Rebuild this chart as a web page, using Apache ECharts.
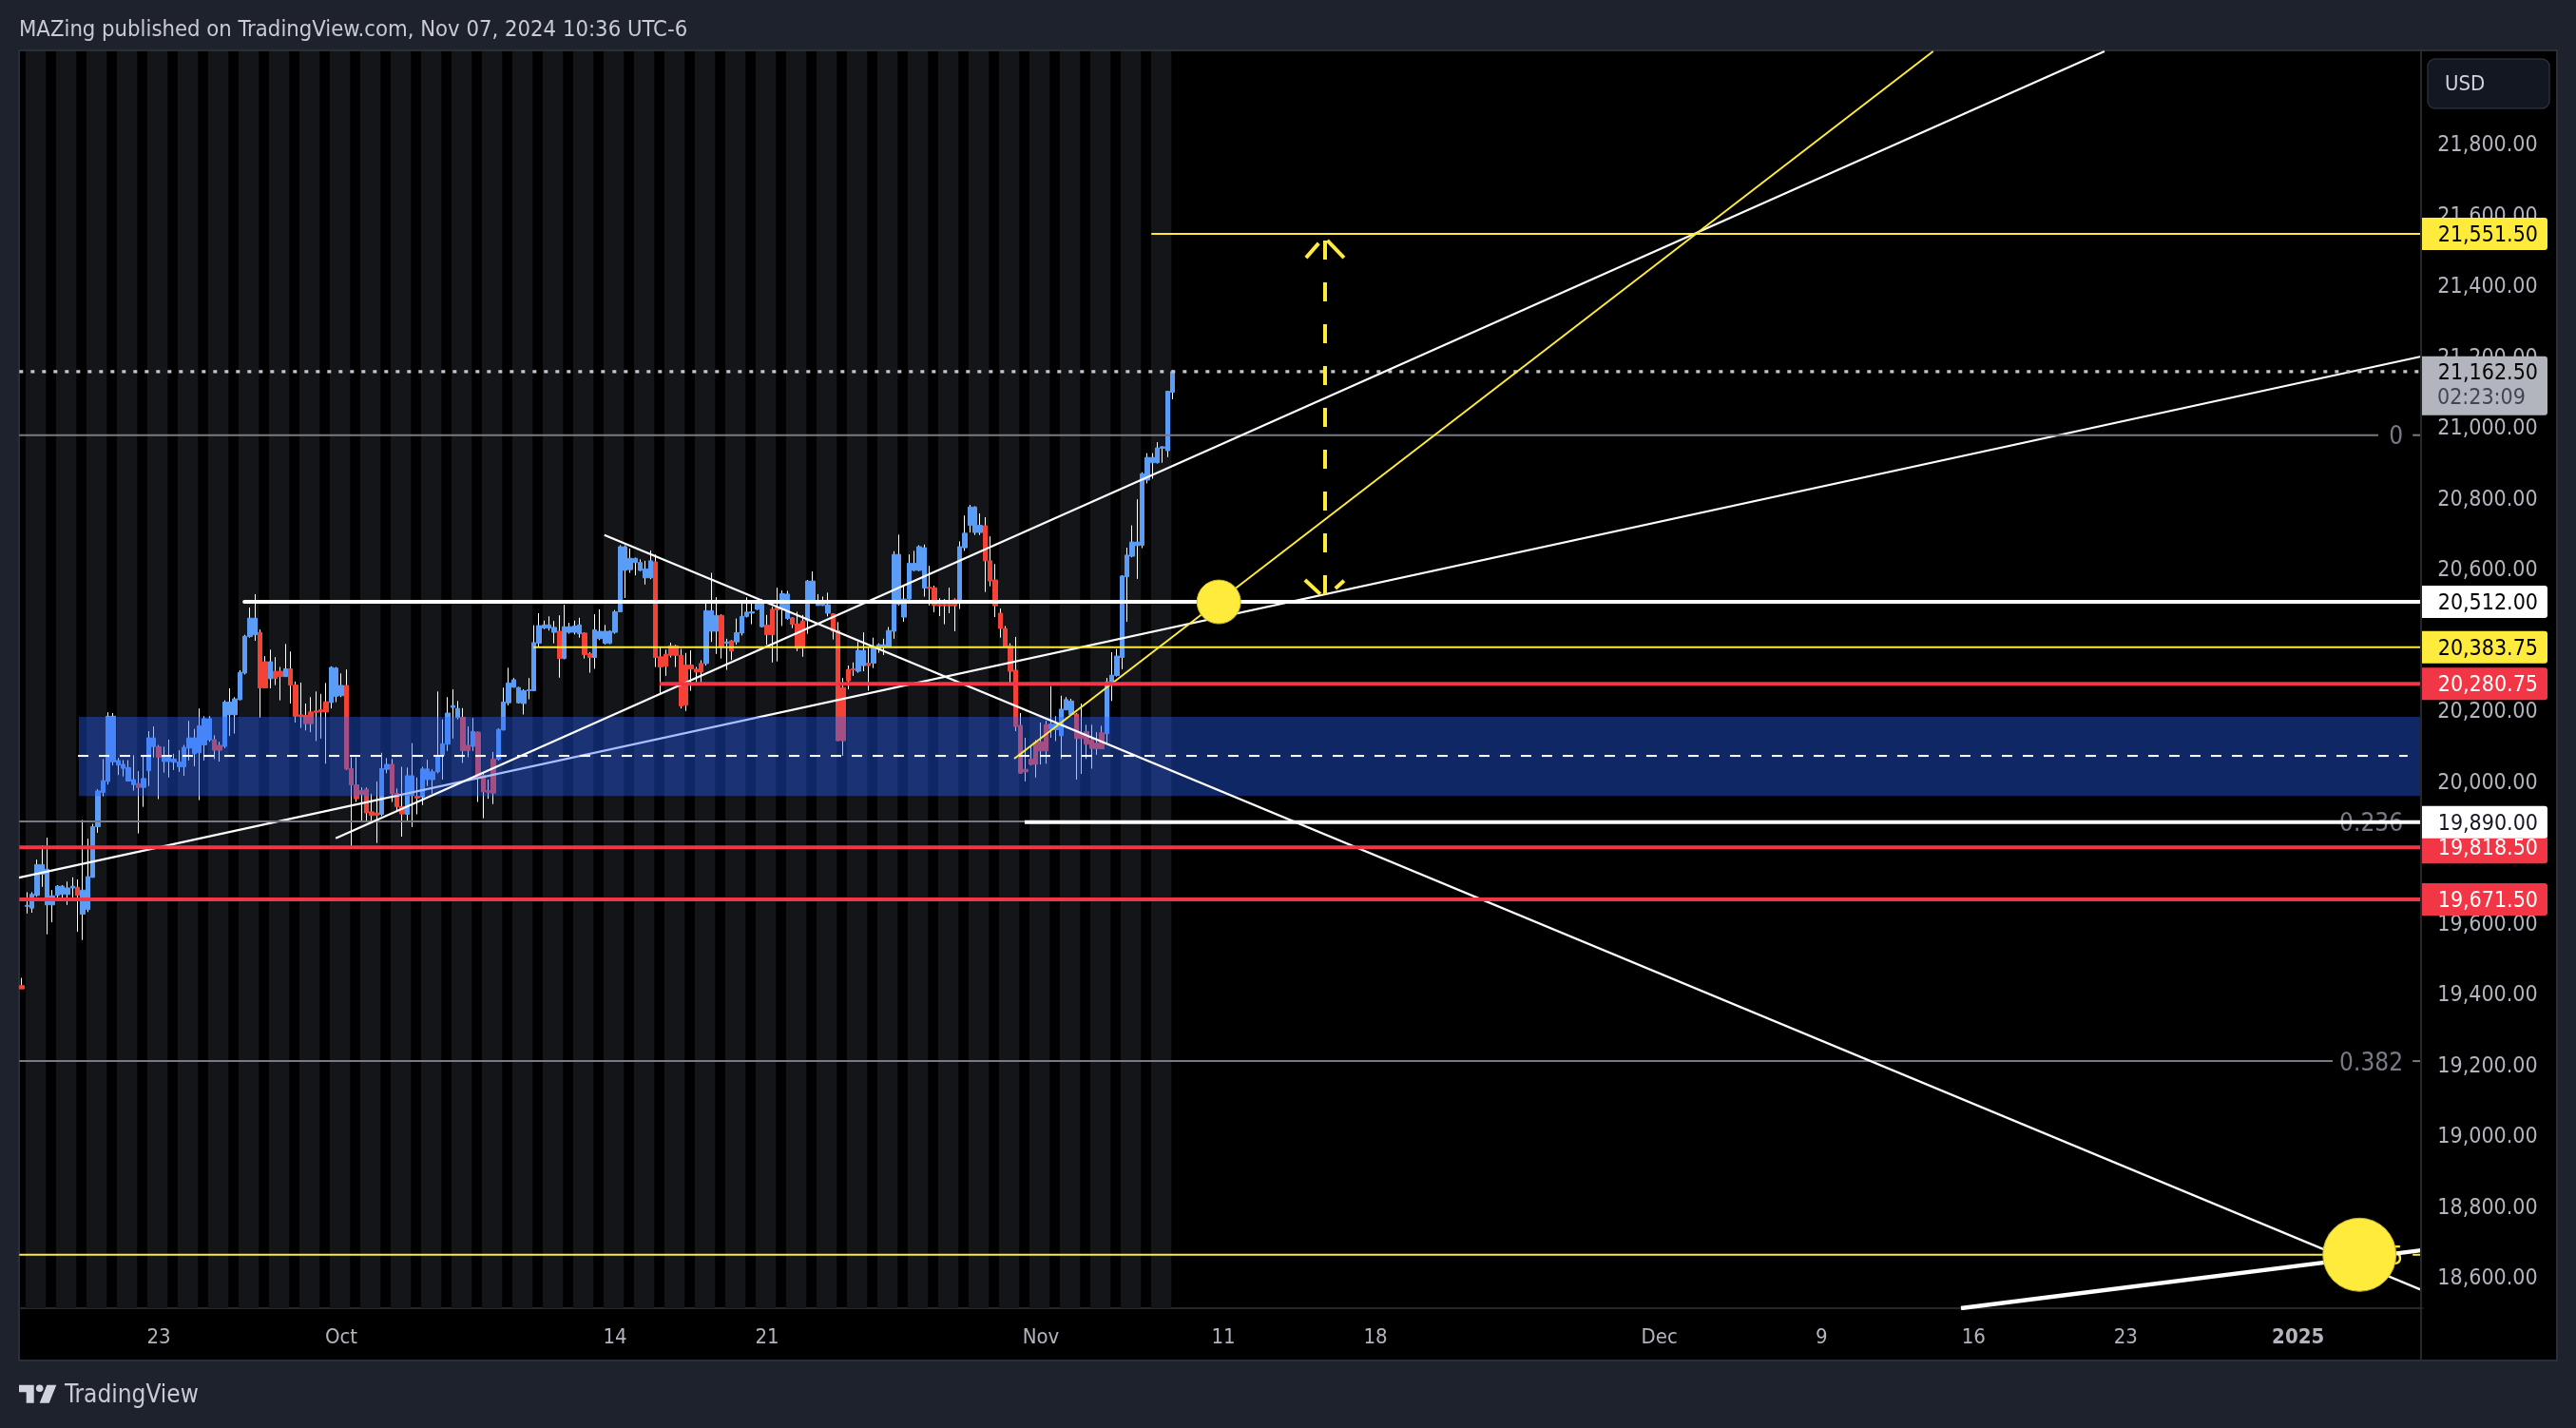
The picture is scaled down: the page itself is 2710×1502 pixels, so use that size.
<!DOCTYPE html>
<html><head><meta charset="utf-8">
<style>html,body{margin:0;padding:0;background:#1e222d;overflow:hidden}#c{width:2710px;height:1502px}</style>
<script src="https://cdn.jsdelivr.net/npm/echarts@6/dist/echarts.min.js"></script>
</head><body><div id="c"></div>
<script>
const FONT = '"DejaVu Sans Condensed","DejaVu Sans",sans-serif';
const opens = [
19428,19652,19647,19683,19743,19656,19656,19683,19686,19686,
19704,19706,19630,19643,19734,19877,19974,20005,20060,20051,
20042,20006,19996,19999,19988,20035,20103,20103,20061,20061,
20059,20046,20046,20099,20083,20086,20108,20122,20123,20107,
20104,20193,20193,20236,20311,20414,20419,20426,20343,20295,
20316,20316,20301,20323,20277,20193,20191,20201,20204,20207,
20230,20228,20245,20247,20276,20041,19995,19979,19983,19919,
19916,19912,20039,20053,19971,19934,19912,19965,19963,19961,
20010,20010,20032,20079,20110,20214,20185,20186,20107,20104,
20144,20022,19979,20068,20068,20150,20227,20271,20227,20225,
20261,20261,20395,20438,20438,20426,20429,20352,20426,20426,
20422,20424,20366,20355,20408,20395,20395,20426,20484,20601,
20603,20623,20601,20580,20580,20625,20357,20364,20388,20388,
20361,20334,20334,20322,20338,20338,20429,20429,20474,20395,
20402,20399,20424,20471,20480,20491,20442,20446,20491,20495,
20491,20465,20467,20450,20458,20459,20516,20502,20502,20480,
20478,20431,20270,20321,20323,20316,20332,20339,20339,20382,
20386,20386,20429,20505,20469,20520,20601,20601,20551,20554,
20552,20505,20505,20505,20518,20516,20665,20728,20708,20708,
20727,20628,20574,20480,20437,20388,20319,20163,20039,20068,
20116,20117,20165,20152,20151,20134,20207,20194,20195,20140,
20146,20122,20113,20142,20140,20286,20304,20355,20583,20641,
20671,20672,20856,20905,20905,20946,20939,21104];
const highs = [
19450,19692,19692,19784,19824,19846,19698,19712,19712,19722,
19734,19728,19896,19843,19885,19983,20068,20200,20198,20071,
20065,20065,20079,20034,20075,20147,20160,20108,20103,20123,
20083,20093,20108,20176,20153,20211,20189,20189,20135,20117,
20234,20268,20243,20319,20419,20496,20534,20434,20359,20377,
20356,20328,20393,20372,20287,20284,20225,20243,20259,20252,
20283,20330,20328,20310,20321,20073,20073,19988,19988,19970,
20005,20086,20071,20068,19985,20046,20044,20113,20016,20046,
20066,20039,20259,20180,20243,20265,20232,20212,20160,20184,
20146,20028,20010,20088,20155,20270,20326,20297,20272,20265,
20297,20446,20480,20459,20471,20458,20474,20504,20453,20459,
20467,20426,20370,20477,20491,20447,20431,20489,20672,20672,
20663,20637,20632,20628,20657,20646,20386,20377,20397,20391,
20379,20368,20375,20328,20347,20507,20594,20525,20477,20408,
20404,20465,20507,20525,20507,20518,20520,20475,20498,20552,
20544,20543,20469,20484,20475,20574,20598,20534,20527,20538,
20480,20455,20297,20332,20341,20399,20426,20386,20411,20395,
20408,20441,20655,20702,20556,20646,20656,20672,20674,20614,
20558,20522,20520,20552,20522,20683,20756,20786,20782,20762,
20751,20697,20619,20493,20444,20395,20413,20198,20128,20104,
20122,20171,20176,20274,20189,20247,20243,20238,20198,20225,
20165,20165,20144,20162,20297,20370,20379,20587,20665,20728,
20802,20878,20932,20932,20963,20952,21108,21167];
const lows = [
19419,19632,19634,19679,19707,19573,19607,19674,19674,19656,
19674,19580,19557,19636,19733,19860,19963,19996,20050,20023,
20019,20005,19979,19858,19933,19992,20073,19955,20030,20016,
20037,20032,20021,20064,20048,19952,20064,20117,20068,20061,
20099,20133,20140,20234,20307,20411,20402,20185,20268,20268,
20277,20234,20300,20225,20171,20156,20149,20144,20119,20126,
20055,20211,20229,20243,20037,19822,19947,19889,19889,19889,
19831,19907,20028,19947,19920,19849,19892,19876,19912,19938,
19992,19970,20028,20010,20091,20126,20180,20057,20073,20091,
19947,19901,19956,19941,20064,20149,20220,20270,20225,20194,
20237,20260,20386,20435,20431,20395,20298,20350,20422,20420,
20411,20352,20312,20323,20404,20392,20393,20422,20483,20523,
20594,20587,20599,20561,20576,20328,20254,20303,20355,20328,
20211,20204,20261,20285,20285,20332,20399,20365,20352,20320,
20348,20391,20417,20468,20449,20489,20440,20391,20341,20344,
20444,20462,20438,20373,20357,20422,20511,20501,20501,20471,
20406,20119,20077,20265,20303,20312,20316,20261,20325,20368,
20362,20384,20408,20502,20456,20518,20599,20599,20527,20502,
20483,20472,20449,20480,20429,20492,20656,20708,20701,20701,
20540,20556,20469,20411,20384,20283,20147,20027,20005,20050,
20016,20053,20055,20128,20119,20068,20206,20191,20010,20026,
20068,20041,20080,20097,20113,20232,20301,20322,20456,20638,
20577,20664,20847,20860,20903,20905,20921,21084];
const closes = [
19419,19655,19686,19770,19770,19757,19682,19709,19709,19704,
19709,19683,19698,19736,19877,19978,20007,20189,20189,20064,
20053,20044,20010,19988,20013,20128,20128,20073,20073,20073,
20068,20060,20101,20128,20128,20162,20182,20182,20093,20093,
20229,20229,20238,20313,20415,20466,20466,20269,20269,20343,
20296,20301,20323,20277,20189,20188,20168,20168,20200,20201,
20201,20327,20325,20276,20040,19995,19956,19968,19916,19909,
19909,20041,20053,19970,19934,19913,20021,20021,19958,20040,
20040,20032,20077,20111,20198,20219,20211,20092,20092,20146,
20015,19976,19974,19972,20152,20229,20283,20292,20270,20261,
20264,20397,20445,20447,20447,20440,20352,20442,20442,20444,
20447,20363,20355,20433,20429,20429,20429,20484,20668,20668,
20635,20635,20623,20605,20628,20355,20328,20330,20361,20361,
20218,20220,20322,20314,20314,20487,20487,20474,20384,20399,
20373,20425,20471,20483,20484,20516,20516,20419,20419,20489,
20535,20534,20449,20381,20381,20571,20571,20516,20514,20504,
20429,20120,20120,20289,20320,20375,20375,20332,20386,20391,
20391,20431,20646,20646,20520,20621,20621,20668,20665,20550,
20502,20501,20501,20501,20501,20668,20706,20780,20780,20728,
20628,20571,20501,20437,20386,20316,20160,20028,20032,20053,
20053,20091,20091,20167,20167,20209,20236,20232,20126,20126,
20110,20098,20097,20097,20286,20305,20359,20585,20644,20681,
20681,20874,20920,20920,20947,20950,21107,21162.5];

// Time axis: bar slots (4h bars, including the empty future) and dated ticks
const slotCount = 474;
const tickSlots  = [27,63,117,147,201,237,267,323,355,385,415,449];
const tickLabels = ['23','Oct','14','21','Nov','11','18','Dec','9','16','23','2025'];
const priceTicks = [18600,18800,19000,19200,19400,19600,19800,20000,20200,20400,20600,20800,21000,21200,21400,21600,21800];
const priceMin = 18517, priceMax = 22067;
const xEnd = 473.25;

// Regular-session shading: first slot of each session
const sessionStarts = [1,7,13,19,25,31,37,43,49,55,61,67,73,79,85,91,97,103,109,115,121,127,133,139,145,151,157,163,169,175,181,187,193,199,205,211,217,223];

// Drawings, in [slot, price]
const trendGentle = [[-0.56,19733],[xEnd,21205]];
const trendRising = [[61.9,19844],[410.8,22067]];
const trendFalling = [[114.9,20701],[xEnd,18569]];
const trendYellow = [[195.75,20069],[377,22067]];
const trendLow = [[382.5,18517],[xEnd,18680.5]];
const level20512 = [[43.9,20512],[xEnd,20512]];
const level20383 = [[100.9,20383.75],[xEnd,20383.75]];
const level20280 = [[125.8,20280.75],[xEnd,20280.75]];
const level19890 = [[197.8,19890],[xEnd,19890]];
const level19818 = [[-0.5,19818.5],[xEnd,19818.5]];
const level19671 = [[-0.5,19671.5],[xEnd,19671.5]];
const level21551 = [[222.8,21551.5],[xEnd,21551.5]];
const lastPriceLine = [[-0.5,21162.5],[xEnd,21162.5]];
const zoneMid = [[11.06,20077],[470.6,20077]];
const zone = [[11.25,20187,xEnd,19964]];
const targetArrow = [[257.06,20534],[257.06,21541]];
const arrowBottomL = [[253.1,20574],[256.1,20534]];
const arrowBottomR = [[260.8,20572],[259.1,20550]];
const arrowTopL = [[253.3,21484],[255.8,21525]];
const arrowTopR = [[257.5,21533],[260.8,21484]];
const markerDots = [[236.1,20512,46],[461.1,18668,77]];
// Fibonacci retracement: level, price, colour, label
const fibPrices = [20983,19892,19215,18668];
const fibLabels = ['0','0.236','0.382','0.5'];
const fibGapStart = [464.8,455.8,455.8,455.8];
const fibGapEnd = 471.6;
// Price tags on the axis
const tagPrices = [21551.5,20512,20383.75,20280.75,19818.5,19890,19671.5];
const tagFills = ['#ffeb3b','#ffffff','#ffeb3b','#f23645','#f23645','#ffffff','#f23645'];
const tagInks = ['#000000','#000000','#000000','#ffffff','#ffffff','#131722','#ffffff'];
const lastPrice = 21162.5, countdown = '02:23:09';

const fmt = v => v.toLocaleString('en-US',{minimumFractionDigits:2,maximumFractionDigits:2});
const categories = new Array(slotCount).fill('');
tickSlots.forEach((s,i)=>{categories[s]=tickLabels[i];});

const YEL='#ffeb3b', RED='#f23645', WHT='#ffffff', GRY='#787b86';
function line(data,color,width,z,type,cap){
  return {type:'line',xAxisIndex:1,yAxisIndex:0,data,symbol:'none',silent:true,animation:false,z,
    lineStyle:{color,width,type:type||'solid',cap:cap||'butt'},emphasis:{disabled:true}};
}
const series = [];
// session stripes
series.push({type:'custom',xAxisIndex:1,yAxisIndex:0,z:1,silent:true,animation:false,data:sessionStarts,
  encode:{x:0},
  renderItem(p,api){
    const k=api.value(0), x0=api.coord([k-0.25,priceMax])[0], x1=api.coord([k+3.75,priceMax])[0];
    return {type:'rect',shape:{x:x0,y:p.coordSys.y,width:x1-x0,height:p.coordSys.height},style:{fill:'#131519'}};
  }});
// wicks
series.push({type:'candlestick',xAxisIndex:0,yAxisIndex:0,z:2,silent:true,animation:false,barWidth:1,barMinWidth:1,
  itemStyle:{color:WHT,color0:WHT,borderColor:WHT,borderColor0:WHT,borderWidth:1},
  data:highs.map((h,i)=>[lows[i],h,lows[i],h])});
// bodies
series.push({type:'candlestick',xAxisIndex:0,yAxisIndex:0,z:3,silent:true,animation:false,barWidth:5,
  itemStyle:{color:'#5b9cf6',color0:'#f44336',borderColor:'#5b9cf6',borderColor0:'#f44336',borderWidth:1},
  data:opens.map((o,i)=>[o,closes[i],Math.min(o,closes[i]),Math.max(o,closes[i])])});
// gentle trend line sits under the zone
series.push(line(trendGentle,WHT,2.2,4));
// demand zone
series.push({type:'custom',xAxisIndex:1,yAxisIndex:0,z:5,silent:true,animation:false,data:zone,encode:{x:[0,2],y:[1,3]},
  renderItem(p,api){
    const a=api.coord([api.value(0),api.value(1)]), b=api.coord([api.value(2),api.value(3)]);
    return {type:'rect',shape:{x:a[0],y:a[1],width:b[0]-a[0],height:b[1]-a[1]},style:{fill:'rgba(41,98,255,0.4)'}};
  }});
// fib lines and labels
fibPrices.forEach((p,i)=>{
  const c=i===3?YEL:GRY;
  series.push(line([[-0.5,p],[fibGapStart[i],p]],c,2,6));
  series.push(line([[fibGapEnd,p],[xEnd,p]],c,2,6));
});
series.push({type:'custom',xAxisIndex:1,yAxisIndex:0,z:6,silent:true,animation:false,
  data:fibPrices.map((p,i)=>[469.7,p,i]),encode:{x:0,y:1},
  renderItem(p,api){
    const i=api.value(2), c=api.coord([api.value(0),api.value(1)]);
    return {type:'text',style:{text:fibLabels[i],x:c[0],y:c[1]+3,align:'right',verticalAlign:'middle',
      fill:i===3?YEL:GRY,font:'26px '+FONT}};
  }});
// levels and trend lines
series.push(line(lastPriceLine,'#c4c6cc',3.4,6,[4,8]));
series.push(line(zoneMid,WHT,2,6,[11,11]));
series.push(line(trendRising,WHT,2.2,6));
series.push(line(trendFalling,WHT,2.2,6));
series.push(line(trendLow,WHT,4.5,6));
series.push(line(trendYellow,YEL,2,6));
series.push(line(level21551,YEL,2,6));
series.push(line(level20383,YEL,2,6));
series.push(line(level20280,RED,4,6));
series.push(line(level19818,RED,4,6));
series.push(line(level19671,RED,4,6));
series.push(line(level20512,WHT,4,6,'solid','round'));
series.push(line(level19890,WHT,4,6));
series.push(line(targetArrow,YEL,4,6,[20,24]));
[arrowBottomL,arrowBottomR,arrowTopL,arrowTopR].forEach(a=>series.push(line(a,YEL,4,6)));
// marker dots
series.push({type:'scatter',xAxisIndex:1,yAxisIndex:0,z:7,silent:true,animation:false,
  data:markerDots.map(d=>[d[0],d[1]]),symbolSize:(v,p)=>markerDots[p.dataIndex][2],
  itemStyle:{color:YEL,borderColor:'#c9b52e',borderWidth:1,opacity:1}});
// axis price tags
series.push({type:'custom',xAxisIndex:1,yAxisIndex:0,z:8,silent:true,animation:false,clip:false,
  data:tagPrices.map((p,i)=>[i,p]),encode:{y:1},
  renderItem(p,api){
    const i=api.value(0), y=api.coord([0,api.value(1)])[1];
    return {type:'group',children:[
      {type:'rect',shape:{x:2548,y:y-17,width:132,height:34,r:[0,3,3,0]},style:{fill:tagFills[i]}},
      {type:'text',style:{text:fmt(api.value(1)),x:2670,y:y+2,align:'right',verticalAlign:'middle',fill:tagInks[i],font:'23px '+FONT}}
    ]};
  }});
series.push({type:'custom',xAxisIndex:1,yAxisIndex:0,z:8,silent:true,animation:false,clip:false,
  data:[[0,lastPrice]],encode:{y:1},
  renderItem(p,api){
    const y=api.coord([0,api.value(1)])[1];
    return {type:'group',children:[
      {type:'rect',shape:{x:2548,y:y-16,width:132,height:62,r:[0,3,3,0]},style:{fill:'#b2b5be'}},
      {type:'text',style:{text:fmt(api.value(1)),x:2670,y:y+2,align:'right',verticalAlign:'middle',fill:'#000000',font:'23px '+FONT}},
      {type:'text',style:{text:countdown,x:2564,y:y+28.5,align:'left',verticalAlign:'middle',fill:'#434651',font:'23px '+FONT}}
    ]};
  }});

const graphic = [
  {type:'rect',z:-1,silent:true,shape:{x:20,y:53,width:2670,height:1378},style:{fill:'#000000',stroke:'#2a2e39',lineWidth:2}},
  {type:'rect',z:50,silent:true,shape:{x:2546,y:54,width:2,height:1377},style:{fill:'#26272b'}},
  {type:'rect',z:50,silent:true,shape:{x:2554,y:62,width:128,height:52,r:8},style:{fill:'#131722',stroke:'#2a2e39',lineWidth:1.5}},
  {type:'text',z:50,silent:true,style:{text:'USD',x:2572,y:89.5,verticalAlign:'middle',fill:'#d1d4dc',font:'22px '+FONT}},
  {type:'text',z:50,silent:true,style:{text:'MAZing published on TradingView.com, Nov 07, 2024 10:36 UTC-6',x:20,y:32,verticalAlign:'middle',fill:'#c8cad4',font:'23.65px '+FONT}},
  {type:'text',z:50,silent:true,style:{text:'TradingView',x:68,y:1468,verticalAlign:'middle',fill:'#c8cad4',font:'26px '+FONT}},
  {type:'polygon',z:50,silent:true,shape:{points:[[20,1456.7],[35.7,1456.7],[35.7,1475.7],[27.7,1475.7],[27.7,1464.3],[20,1464.3]]},style:{fill:'#d1d4dc'}},
  {type:'circle',z:50,silent:true,shape:{cx:41.7,cy:1460.3,r:3.8},style:{fill:'#d1d4dc'}},
  {type:'polygon',z:50,silent:true,shape:{points:[[59.3,1456.7],[49.3,1456.7],[41.7,1475.7],[51.7,1475.7]]},style:{fill:'#d1d4dc'}}
];

const chart = echarts.init(document.getElementById('c'),null,{width:2710,height:1502});
chart.setOption({
  backgroundColor:'#1e222d',animation:false,
  textStyle:{fontFamily:FONT},
  grid:{left:20.33,top:54,width:2528,height:1322,containLabel:false},
  xAxis:[
    {type:'category',data:categories,boundaryGap:true,
     axisLine:{show:true,lineStyle:{color:'#26272b',width:2}},axisTick:{show:false},splitLine:{show:false},
     axisLabel:{color:'#b2b5be',fontSize:22,fontFamily:FONT,margin:20,interval:(i,v)=>v!=='',
       formatter:v=>v==='2025'?'{b|2025}':v,rich:{b:{fontWeight:'bold',fontSize:22,color:'#b2b5be',fontFamily:FONT}}}},
    {type:'value',min:-0.5,max:slotCount-0.5,show:false,splitLine:{show:false}}
  ],
  yAxis:{type:'value',position:'right',min:priceMin,max:priceMax,
    axisLine:{show:false},axisTick:{show:false},splitLine:{show:false},
    axisLabel:{customValues:priceTicks,color:'#b2b5be',fontSize:23,fontFamily:FONT,margin:16,align:'left',padding:[6,0,0,0],
      showMinLabel:true,showMaxLabel:true,hideOverlap:false,formatter:v=>fmt(v)}},
  graphic:{elements:graphic},
  series
});
</script></body></html>
